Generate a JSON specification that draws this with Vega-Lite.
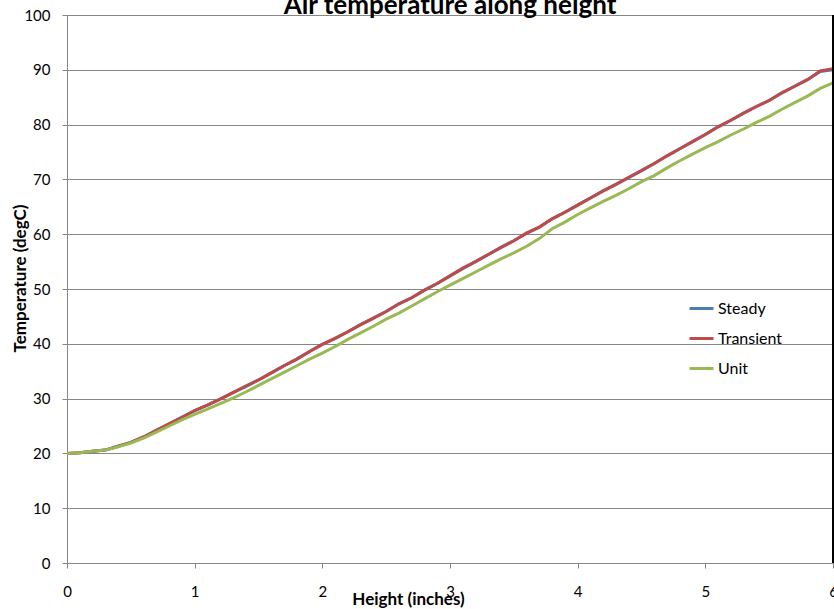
{
  "$schema": "https://vega.github.io/schema/vega-lite/v6.json",
  "width": 766,
  "height": 548,
  "autosize": "none",
  "padding": {"left": 67, "top": 15, "right": 1, "bottom": 46},
  "background": "white",
  "config": {
    "view": {"stroke": null},
    "font": "Lato",
    "axis": {"labelFont": "Lato", "titleFont": "Lato", "labelColor": "#000000", "titleColor": "#000000"}
  },
  "title": {
    "text": "Air temperature along height",
    "font": "Lato",
    "fontSize": 26,
    "fontWeight": "bold",
    "color": "#000000",
    "anchor": "middle",
    "baseline": "alphabetic",
    "offset": 2,
    "dy": 34
  },
  "data": {
    "values": [
      {"h": 0.0, "Steady": 20.0, "Transient": 20.0, "Unit": 20.0},
      {"h": 0.1, "Steady": 20.1, "Transient": 20.1, "Unit": 20.1},
      {"h": 0.2, "Steady": 20.4, "Transient": 20.4, "Unit": 20.4},
      {"h": 0.3, "Steady": 20.6, "Transient": 20.6, "Unit": 20.6},
      {"h": 0.4, "Steady": 21.3, "Transient": 21.3, "Unit": 21.2},
      {"h": 0.5, "Steady": 22.0, "Transient": 22.0, "Unit": 21.9},
      {"h": 0.6, "Steady": 23.0, "Transient": 23.0, "Unit": 22.8},
      {"h": 0.7, "Steady": 24.2, "Transient": 24.2, "Unit": 23.9},
      {"h": 0.8, "Steady": 25.4, "Transient": 25.4, "Unit": 25.0},
      {"h": 0.9, "Steady": 26.6, "Transient": 26.6, "Unit": 26.1},
      {"h": 1.0, "Steady": 27.8, "Transient": 27.8, "Unit": 27.1},
      {"h": 1.1, "Steady": 28.8, "Transient": 28.8, "Unit": 28.1},
      {"h": 1.2, "Steady": 29.9, "Transient": 29.9, "Unit": 29.1},
      {"h": 1.3, "Steady": 31.1, "Transient": 31.1, "Unit": 30.1},
      {"h": 1.4, "Steady": 32.2, "Transient": 32.3, "Unit": 31.2},
      {"h": 1.5, "Steady": 33.4, "Transient": 33.4, "Unit": 32.4},
      {"h": 1.6, "Steady": 34.7, "Transient": 34.7, "Unit": 33.6},
      {"h": 1.7, "Steady": 36.0, "Transient": 36.0, "Unit": 34.8},
      {"h": 1.8, "Steady": 37.2, "Transient": 37.2, "Unit": 36.0},
      {"h": 1.9, "Steady": 38.6, "Transient": 38.6, "Unit": 37.2},
      {"h": 2.0, "Steady": 39.9, "Transient": 39.9, "Unit": 38.3},
      {"h": 2.1, "Steady": 41.0, "Transient": 41.0, "Unit": 39.5},
      {"h": 2.2, "Steady": 42.2, "Transient": 42.2, "Unit": 40.8},
      {"h": 2.3, "Steady": 43.5, "Transient": 43.5, "Unit": 42.0},
      {"h": 2.4, "Steady": 44.7, "Transient": 44.7, "Unit": 43.2},
      {"h": 2.5, "Steady": 45.9, "Transient": 45.9, "Unit": 44.5},
      {"h": 2.6, "Steady": 47.3, "Transient": 47.3, "Unit": 45.6},
      {"h": 2.7, "Steady": 48.4, "Transient": 48.4, "Unit": 46.9},
      {"h": 2.8, "Steady": 49.8, "Transient": 49.8, "Unit": 48.2},
      {"h": 2.9, "Steady": 51.0, "Transient": 51.0, "Unit": 49.5},
      {"h": 3.0, "Steady": 52.4, "Transient": 52.4, "Unit": 50.7},
      {"h": 3.1, "Steady": 53.7, "Transient": 53.8, "Unit": 51.9},
      {"h": 3.2, "Steady": 55.0, "Transient": 55.0, "Unit": 53.1},
      {"h": 3.3, "Steady": 56.3, "Transient": 56.3, "Unit": 54.3},
      {"h": 3.4, "Steady": 57.6, "Transient": 57.6, "Unit": 55.5},
      {"h": 3.5, "Steady": 58.8, "Transient": 58.8, "Unit": 56.6},
      {"h": 3.6, "Steady": 60.2, "Transient": 60.2, "Unit": 57.8},
      {"h": 3.7, "Steady": 61.3, "Transient": 61.3, "Unit": 59.2},
      {"h": 3.8, "Steady": 62.8, "Transient": 62.8, "Unit": 61.0},
      {"h": 3.9, "Steady": 64.0, "Transient": 64.0, "Unit": 62.2},
      {"h": 4.0, "Steady": 65.3, "Transient": 65.3, "Unit": 63.6},
      {"h": 4.1, "Steady": 66.6, "Transient": 66.6, "Unit": 64.8},
      {"h": 4.2, "Steady": 67.9, "Transient": 67.9, "Unit": 66.0},
      {"h": 4.3, "Steady": 69.1, "Transient": 69.1, "Unit": 67.1},
      {"h": 4.4, "Steady": 70.3, "Transient": 70.4, "Unit": 68.3},
      {"h": 4.5, "Steady": 71.6, "Transient": 71.6, "Unit": 69.6},
      {"h": 4.6, "Steady": 72.9, "Transient": 72.9, "Unit": 70.7},
      {"h": 4.7, "Steady": 74.3, "Transient": 74.3, "Unit": 72.1},
      {"h": 4.8, "Steady": 75.6, "Transient": 75.6, "Unit": 73.4},
      {"h": 4.9, "Steady": 76.9, "Transient": 76.9, "Unit": 74.6},
      {"h": 5.0, "Steady": 78.2, "Transient": 78.2, "Unit": 75.8},
      {"h": 5.1, "Steady": 79.6, "Transient": 79.6, "Unit": 76.9},
      {"h": 5.2, "Steady": 80.8, "Transient": 80.8, "Unit": 78.1},
      {"h": 5.3, "Steady": 82.1, "Transient": 82.1, "Unit": 79.2},
      {"h": 5.4, "Steady": 83.3, "Transient": 83.3, "Unit": 80.4},
      {"h": 5.5, "Steady": 84.4, "Transient": 84.4, "Unit": 81.5},
      {"h": 5.6, "Steady": 85.8, "Transient": 85.8, "Unit": 82.8},
      {"h": 5.7, "Steady": 87.0, "Transient": 87.0, "Unit": 84.0},
      {"h": 5.8, "Steady": 88.2, "Transient": 88.2, "Unit": 85.2},
      {"h": 5.9, "Steady": 89.7, "Transient": 89.8, "Unit": 86.6},
      {"h": 6.0, "Steady": 90.0, "Transient": 90.2, "Unit": 87.6}
    ]
  },
  "layer": [
    {
      "transform": [{"fold": ["Steady", "Transient", "Unit"], "as": ["series", "temp"]}],
      "mark": {"type": "line", "strokeWidth": 3, "clip": true},
      "encoding": {
        "x": {
          "field": "h", "type": "quantitative",
          "scale": {"domain": [0, 6], "nice": false},
          "axis": {
            "title": "Height (inches)",
            "titleFontSize": 17, "titleFontWeight": "bold",
            "titleX": 341, "titleY": 41, "titleBaseline": "alphabetic", "titleAlign": "center",
            "values": [0, 1, 2, 3, 4, 5, 6],
            "format": "d",
            "labelFontSize": 15, "labelPadding": 16,
            "tickSize": 5, "tickColor": "#868686",
            "domainColor": "#868686", "domainWidth": 1,
            "grid": false, "labelFlush": false
          }
        },
        "y": {
          "field": "temp", "type": "quantitative",
          "scale": {"domain": [0, 100], "nice": false},
          "axis": {
            "title": "Temperature (degC)",
            "titleFontSize": 17, "titleFontWeight": "bold",
            "titleX": -47, "titleY": 263, "titleAlign": "center", "titleBaseline": "middle", "titleAngle": -90,
            "values": [0, 10, 20, 30, 40, 50, 60, 70, 80, 90, 100],
            "labelFontSize": 15, "labelPadding": 12,
            "tickSize": 5, "tickColor": "#868686",
            "domainColor": "#868686", "domainWidth": 1,
            "grid": true, "gridColor": "#868686", "gridWidth": 1
          }
        },
        "color": {
          "field": "series", "type": "nominal",
          "scale": {"domain": ["Steady", "Transient", "Unit"], "range": ["#4a7ebb", "#be4b48", "#98b954"]},
          "legend": {
            "title": null,
            "orient": "none",
            "legendX": 621,
            "legendY": 280,
            "symbolType": "stroke",
            "symbolSize": 576,
            "symbolStrokeWidth": 3,
            "labelFontSize": 16,
            "labelFont": "Lato",
            "labelColor": "#000000",
            "labelOffset": 3,
            "rowPadding": 8
          }
        }
      }
    },
    {
      "mark": {"type": "rule", "color": "#000000", "strokeWidth": 1},
      "encoding": {"x": {"datum": 6}}
    }
  ]
}
